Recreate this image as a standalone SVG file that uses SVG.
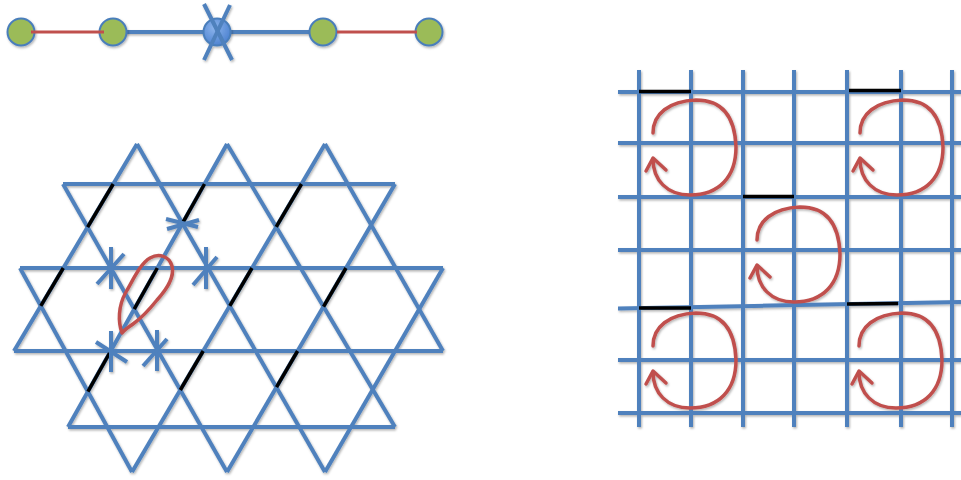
<svg xmlns="http://www.w3.org/2000/svg" width="961" height="480" viewBox="0 0 961 480">
<style>
.b{stroke:#4f81bd;stroke-width:4;fill:none;stroke-linecap:butt}
.k{stroke:#000;stroke-width:3.5;fill:none}
.r{stroke:#c0504d;stroke-width:3.5;fill:none;stroke-linecap:round;stroke-linejoin:round}
.g{fill:#9bbb59;stroke:#4a7ebb;stroke-width:2}
</style>
<defs>
<filter id="sh" filterUnits="userSpaceOnUse" x="0" y="0" width="961" height="480">
<feDropShadow dx="1" dy="1.5" stdDeviation="1" flood-color="#000" flood-opacity="0.3"/>
</filter>
<radialGradient id="bn" cx="0.4" cy="0.35" r="0.7">
<stop offset="0" stop-color="#8cb4ec"/>
<stop offset="1" stop-color="#4a80cf"/>
</radialGradient>
<g id="loop">
<path class="r" d="M14,41 C14,22 30,9 57,8 C84,8 96,25 97,55 C97,85 80,103 51,103 C28,103 14,88 14,67"/>
<path class="r" d="M7,79 L14,66 L27,78"/>
</g>
</defs>

<!-- top chain -->
<g id="connectors" filter="url(#sh)">
<line class="b" x1="113" y1="32" x2="323" y2="32" stroke-width="3"/>
</g>
<g id="n1" filter="url(#sh)"><circle class="g" cx="21" cy="32" r="13.5"/></g>
<g id="n2" filter="url(#sh)"><circle class="g" cx="113" cy="32" r="13.5"/></g>
<g id="n3" filter="url(#sh)">
<circle cx="217" cy="32" r="13.5" fill="url(#bn)" stroke="#4a7ebb" stroke-width="2"/>
<line class="b" x1="204" y1="4" x2="232" y2="60"/>
<line class="b" x1="230" y1="5" x2="204" y2="60"/>
</g>
<g id="n4" filter="url(#sh)"><circle class="g" cx="323" cy="32" r="13.5"/></g>
<g id="n5" filter="url(#sh)"><circle class="g" cx="429" cy="32" r="13.5"/></g>
<g id="bonds">
<line x1="31" y1="32" x2="104" y2="32" stroke="#c0504d" stroke-width="3"/>
<line x1="337" y1="32" x2="417" y2="32" stroke="#c0504d" stroke-width="3"/>
</g>

<!-- kagome lattice -->
<g id="kagome" filter="url(#sh)">
<g class="b">
<line x1="63" y1="184" x2="395" y2="184"/>
<line x1="20" y1="268" x2="443" y2="268"/>
<line x1="14" y1="351" x2="443" y2="351"/>
<line x1="68" y1="427" x2="395" y2="427"/>
<line x1="137" y1="144" x2="14" y2="351"/>
<line x1="227" y1="144" x2="68" y2="427"/>
<line x1="325" y1="144" x2="132" y2="472"/>
<line x1="395" y1="184" x2="227" y2="472"/>
<line x1="443" y1="268" x2="325" y2="472"/>
<line x1="20" y1="268" x2="132" y2="472"/>
<line x1="63" y1="184" x2="227" y2="472"/>
<line x1="137" y1="144" x2="325" y2="472"/>
<line x1="227" y1="144" x2="395" y2="427"/>
<line x1="325" y1="144" x2="443" y2="351"/>
</g>
<g class="k">
<line x1="113.2" y1="184" x2="87.6" y2="227.2"/>
<line x1="204.5" y1="184" x2="182.4" y2="223.3"/>
<line x1="301.5" y1="184" x2="276.2" y2="226.9"/>
<line x1="63.3" y1="268" x2="40.8" y2="305.9"/>
<line x1="157.3" y1="268" x2="134.2" y2="309.1"/>
<line x1="252" y1="268" x2="229.8" y2="305.8"/>
<line x1="346" y1="268" x2="323.5" y2="306.6"/>
<line x1="110.7" y1="351" x2="87.9" y2="391.6"/>
<line x1="203.2" y1="351" x2="180.3" y2="390"/>
<line x1="297.6" y1="351" x2="276.5" y2="387.2"/>
</g>
<g class="b" stroke-width="3">
<line x1="166" y1="219" x2="198" y2="227"/>
<line x1="167" y1="229" x2="199" y2="220"/>
<line x1="111" y1="247" x2="111" y2="289"/>
<line x1="97" y1="284" x2="124" y2="254"/>
<line x1="206" y1="247" x2="206" y2="289"/>
<line x1="193" y1="285" x2="217" y2="257"/>
<line x1="111" y1="331" x2="111" y2="372"/>
<line x1="96" y1="342" x2="127" y2="362"/>
<line x1="157" y1="330" x2="157" y2="371"/>
<line x1="143" y1="366" x2="167" y2="339"/>
</g>
<path class="r" stroke-width="3" d="M122,333 C118,322 118,306 126,292 C134,278 141,263 150,258 C159,253 169,256 172,266 C175,278 166,290 157,300 C149,310 140,319 133,324 C129,327 125,329 122,333"/>
</g>

<!-- square lattice -->
<g id="square" filter="url(#sh)">
<g class="b">
<line x1="639" y1="70" x2="639" y2="427"/>
<line x1="691" y1="70" x2="691" y2="427"/>
<line x1="743" y1="70" x2="743" y2="427"/>
<line x1="794" y1="70" x2="794" y2="427"/>
<line x1="847" y1="70" x2="847" y2="427"/>
<line x1="901" y1="70" x2="901" y2="427"/>
<line x1="952" y1="70" x2="952" y2="427"/>
<line x1="618" y1="92" x2="961" y2="92"/>
<line x1="618" y1="143" x2="961" y2="143"/>
<line x1="618" y1="197" x2="961" y2="197"/>
<line x1="618" y1="250" x2="961" y2="250"/>
<line x1="618" y1="308.5" x2="961" y2="302"/>
<line x1="618" y1="360" x2="961" y2="360"/>
<line x1="618" y1="413" x2="961" y2="413"/>
</g>
<g class="k">
<line x1="639" y1="91.5" x2="691" y2="91.5"/>
<line x1="849" y1="90.5" x2="901" y2="90.5"/>
<line x1="743" y1="196.5" x2="794" y2="196.5"/>
<line x1="639" y1="308" x2="691" y2="308"/>
<line x1="847" y1="304" x2="898" y2="303.5"/>
</g>
<use href="#loop" transform="translate(639,92)"/>
<use href="#loop" transform="translate(846,92)"/>
<use href="#loop" transform="translate(743,199)"/>
<use href="#loop" transform="translate(639,305)"/>
<use href="#loop" transform="translate(845,305)"/>
</g>
</svg>
